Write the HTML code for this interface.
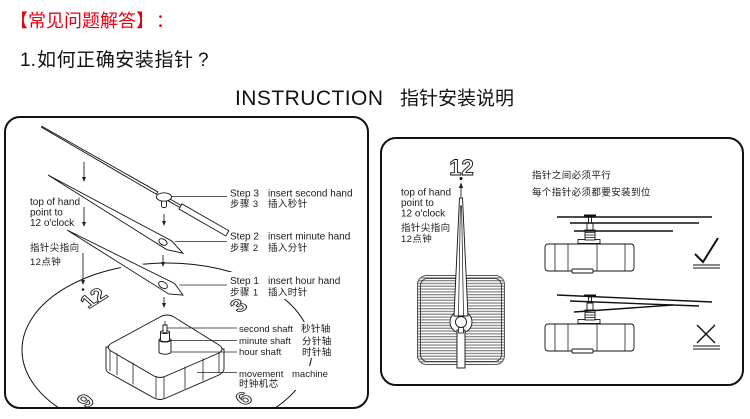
<!DOCTYPE html>
<html><head><meta charset="utf-8">
<style>
html,body{margin:0;padding:0;background:#fff;width:750px;height:419px;overflow:hidden;}
svg{display:block;}
text{font-family:"Liberation Sans","Noto Sans CJK SC",sans-serif;}
.s{font-size:10px;fill:#1a1a1a;}
.t{font-size:9.5px;fill:#1a1a1a;}
.c{font-size:9.5px;fill:#1a1a1a;letter-spacing:0.4px;}
.ln{stroke:#222;stroke-width:0.8;fill:none;}
.o{fill:#fff;stroke:#111;stroke-width:0.9;}
.num{font-size:24px;font-weight:bold;fill:#fff;stroke:#111;stroke-width:1;text-anchor:middle;}
</style></head><body>
<svg width="750" height="419" viewBox="0 0 750 419" xmlns="http://www.w3.org/2000/svg">
<defs>
<clipPath id="lp"><rect x="6" y="118" width="361" height="289" rx="14"/></clipPath>
<pattern id="stripe" width="4" height="2.8" patternUnits="userSpaceOnUse"><rect width="4" height="2.8" fill="#fff"/><rect y="0" width="4" height="1.3" fill="#8a8a8a"/></pattern>
</defs>

<!-- header -->
<text x="10" y="27" font-size="18" fill="#e60012">【常见问题解答】</text>
<text x="156" y="27" font-size="18" fill="#e60012">：</text>
<text x="20" y="66" font-size="19" fill="#111">1.</text>
<text x="37" y="66" font-size="19" fill="#111" textLength="156" lengthAdjust="spacing">如何正确安装指针</text>
<text x="198" y="66" font-size="19" fill="#111">?</text>
<text x="235" y="105" font-size="21" fill="#111" textLength="148" lengthAdjust="spacing">INSTRUCTION</text>
<text x="400" y="104.5" font-size="19" fill="#111">指针安装说明</text>

<!-- panels -->
<rect x="5" y="117" width="363" height="291" rx="15" fill="none" stroke="#111" stroke-width="2"/>
<rect x="381" y="138" width="362" height="247" rx="15" fill="none" stroke="#111" stroke-width="2"/>

<!-- ===== LEFT PANEL ===== -->
<g clip-path="url(#lp)">
  <ellipse cx="167" cy="350" rx="145" ry="87" fill="none" stroke="#111" stroke-width="1"/>
  <g transform="translate(167,350) scale(1,0.75)">
    <text class="num" transform="translate(-74,-70) rotate(-40)" dy="9">12</text>
    <text class="num" transform="translate(71,-60) rotate(-40)" dy="9">3</text>
    <text class="num" transform="translate(76,64) rotate(-40)" dy="9">6</text>
    <text class="num" transform="translate(-82,67) rotate(-40)" dy="9">9</text>
  </g>
</g>

<!-- white masks hiding arc behind labels -->
<rect x="228" y="272" width="118" height="27" fill="#fff"/>
<rect x="238" y="322" width="94" height="36" fill="#fff"/>
<rect x="238" y="366" width="92" height="24" fill="#fff"/>

<!-- left text -->
<text class="s" x="30" y="205">top of hand</text>
<text class="s" x="30" y="215.5">point to</text>
<text class="s" x="30" y="226">12 o'clock</text>
<text class="c" x="30" y="251">指针尖指向</text>
<text class="c" x="30" y="265">12点钟</text>

<!-- arrows left -->
<g stroke="#222" stroke-width="0.9" fill="#222">
  <line x1="84" y1="162" x2="84" y2="178"/><polygon points="82,177 86,177 84,182" stroke="none"/>
  <line x1="84" y1="207" x2="84" y2="223"/><polygon points="82,222 86,222 84,227" stroke="none"/>
  <line x1="164" y1="214" x2="164" y2="222"/><polygon points="162,221 166,221 164,226" stroke="none"/>
  <line x1="83" y1="253" x2="83" y2="281"/><polygon points="81,280 85,280 83,285" stroke="none"/>
  <circle cx="83" cy="289.5" r="1.3" stroke="none"/>
  <line x1="163" y1="255" x2="163" y2="263"/><polygon points="161,262 165,262 163,267" stroke="none"/>
  <line x1="164" y1="297" x2="164" y2="304"/><polygon points="162,303 166,303 164,308" stroke="none"/>
</g>

<!-- leaders -->
<line class="ln" x1="172" y1="196.5" x2="227" y2="196.5"/>
<line class="ln" x1="168" y1="241.5" x2="227" y2="241.5"/>
<line class="ln" x1="168" y1="285" x2="227" y2="285"/>

<!-- second hand -->
<g transform="translate(164,197) rotate(29.85)">
  <polygon class="o" points="-141,-0.5 -141,0.5 -8,1.4 -8,-1.4" stroke-width="0.8"/>
  <polygon class="o" points="6,-1.2 20,-1.2 20,1.2 6,1.2" stroke-width="0.8"/>
  <rect class="o" x="19" y="-3" width="54" height="6"/>
</g>
<path class="o" d="M161.5,200 v6 a2.5,1.5 0 0 0 5,0 v-6 z"/>
<ellipse class="o" cx="164" cy="197" rx="7.5" ry="4.2"/>

<!-- minute hand -->
<g transform="translate(48,175) rotate(30.1)">
  <polygon points="0,0 140,-5 156,0 140,5" fill="#fff" stroke="#fff" stroke-width="4"/>
  <polygon class="o" points="0,0 140,-5 156,0 140,5"/>
</g>
<ellipse class="o" cx="163" cy="242" rx="4.5" ry="2.8" transform="rotate(30 163 242)"/>

<!-- hour hand -->
<g transform="translate(67,230) rotate(29.3)">
  <polygon points="0,0 120,-6 133,0 120,6" fill="#fff" stroke="#fff" stroke-width="6"/>
  <polygon class="o" points="0,0 120,-6 133,0 120,6"/>
</g>
<ellipse class="o" cx="163" cy="285" rx="4.8" ry="3" transform="rotate(30 163 285)"/>

<!-- step labels -->
<text class="s" x="230" y="196.5">Step 3</text>
<text class="s" x="268" y="196.5">insert second hand</text>
<text class="c" x="230" y="207">步骤 3</text>
<text class="c" x="268" y="207">插入秒针</text>
<text class="s" x="230" y="239.5">Step 2</text>
<text class="s" x="268" y="239.5">insert minute hand</text>
<text class="c" x="230" y="251">步骤 2</text>
<text class="c" x="268" y="251">插入分针</text>
<text class="s" x="230" y="284">Step 1</text>
<text class="s" x="268" y="284">insert hour hand</text>
<text class="c" x="230" y="295.5">步骤 1</text>
<text class="c" x="268" y="295.5">插入时针</text>

<!-- movement box -->
<path class="o" d="M106,347 L106,369 Q106,372 111,374 L154,398 Q160,401 166,398 L219,375 Q224,372 224,369 L224,349 Z"/>
<path class="o" d="M112,343 L160,317 Q167,313 174,317 L219,345 Q225,349 219,353 L166,376 Q160,379 154,376 L111,351 Q105,347 112,343 Z"/>
<g class="ln">
  <line x1="110" y1="350" x2="110" y2="371.3"/>
  <line x1="117" y1="353.3" x2="117" y2="375.3"/>
  <line x1="133" y1="362.5" x2="133" y2="384.5"/>
  <line x1="156" y1="376" x2="156" y2="397.7"/>
  <line x1="164" y1="376.5" x2="164" y2="398.2"/>
  <line x1="185" y1="366.7" x2="185" y2="388.7"/>
  <line x1="203" y1="358.5" x2="203" y2="380.5"/>
  <line x1="219" y1="352" x2="219" y2="373.3"/>
</g>
<!-- shaft -->
<path class="o" d="M159,340 V352 A6,2.2 0 0 0 171,352 V340 Z"/>
<ellipse class="o" cx="165" cy="340" rx="6" ry="2"/>
<path class="o" d="M160.5,332 V340 A4.5,1.6 0 0 0 169.5,340 V332 Z"/>
<ellipse class="o" cx="165" cy="332" rx="4.5" ry="1.6"/>
<path class="o" d="M163,325 V332 A2,1 0 0 0 167,332 V325 Z"/>
<line class="ln" x1="165" y1="321" x2="165" y2="325"/>

<!-- shaft leaders -->
<line class="ln" x1="167" y1="328" x2="237" y2="328"/>
<line class="ln" x1="170" y1="340.5" x2="237" y2="340.5"/>
<line class="ln" x1="171" y1="352" x2="237" y2="352"/>
<line class="ln" x1="197" y1="372.5" x2="237" y2="372.5"/>

<text class="t" x="239" y="331.8">second shaft</text>
<text class="c" x="301" y="332">秒针轴</text>
<text class="t" x="239" y="344.2">minute shaft</text>
<text class="c" x="302" y="344.5">分针轴</text>
<text class="t" x="239" y="355.2">hour shaft</text>
<text class="c" x="302" y="355.5">时针轴</text>
<text class="t" x="239" y="376.8">movement</text>
<text class="t" x="292" y="376.8">machine</text>
<text class="c" x="239" y="387">时钟机芯</text>

<!-- ===== RIGHT PANEL ===== -->
<text x="461.5" y="175" text-anchor="middle" font-size="22" font-weight="bold" fill="#fff" stroke="#111" stroke-width="0.9">12</text>
<circle cx="461" cy="178.5" r="1.5" fill="#111"/>
<line x1="461" y1="197" x2="461" y2="187" stroke="#222" stroke-width="0.9"/>
<polygon points="458.8,188 463.2,188 461,182.5" fill="#222"/>

<text class="s" x="401" y="195.5">top of hand</text>
<text class="s" x="401" y="205.8">point to</text>
<text class="s" x="401" y="216.5">12 o'clock</text>
<text class="c" x="401" y="231">指针尖指向</text>
<text class="c" x="401" y="242">12点钟</text>

<!-- square movement front -->
<rect x="417.5" y="275.5" width="87" height="89" rx="9" fill="url(#stripe)" stroke="#555" stroke-width="1"/>
<rect x="420.5" y="278.5" width="81" height="83" rx="7" fill="none" stroke="#222" stroke-width="0.8"/>

<!-- vertical hand -->
<circle class="o" cx="461" cy="322" r="11"/>
<rect class="o" x="457" y="330" width="8" height="38"/>
<rect x="458.5" y="327" width="5" height="6" fill="#fff" stroke="#111" stroke-width="0.8"/>
<polygon class="o" points="459.5,198 462.5,198 468,316 454,316"/>
<polygon points="460.4,206 461.6,206 463.5,316 458.5,316" fill="none" stroke="#111" stroke-width="0.7"/>
<circle class="o" cx="461" cy="322" r="5.5"/>

<!-- parallel text -->
<text class="c" x="532" y="178.5" letter-spacing="0.8">指针之间必须平行</text>
<text class="c" x="532" y="195.5" letter-spacing="0.5">每个指针必须都要安装到位</text>

<!-- side movement (correct) -->
<g>
  <rect class="o" x="578" y="239.5" width="22" height="4"/>
  <rect class="o" x="585" y="230" width="10" height="10"/>
  <g class="ln"><line x1="585" y1="232.5" x2="595" y2="232.5"/><line x1="585" y1="235" x2="595" y2="235"/><line x1="585" y1="237.5" x2="595" y2="237.5"/></g>
  <rect class="o" x="587" y="223" width="6" height="7"/>
  <rect class="o" x="588.5" y="217" width="3" height="6"/>
  <rect x="584" y="214.5" width="12" height="2.5" fill="#111"/>
  <rect class="o" x="545" y="244" width="89" height="27" rx="3"/>
  <g class="ln"><line x1="555" y1="244" x2="555" y2="271"/><line x1="568" y1="244" x2="568" y2="271"/><line x1="597" y1="244" x2="597" y2="271"/><line x1="625" y1="244" x2="625" y2="271"/></g>
  <rect class="o" x="572" y="269" width="21" height="4" rx="1"/>
  <g stroke="#111" stroke-width="1.4">
    <line x1="557" y1="217" x2="712" y2="217"/>
    <line x1="570" y1="223" x2="699" y2="223"/>
    <line x1="574" y1="231" x2="673" y2="231"/>
  </g>
</g>
<polyline points="695,254 703,262 718,238" fill="none" stroke="#111" stroke-width="2"/>
<line x1="693" y1="265" x2="720" y2="265" stroke="#111" stroke-width="1"/>
<line x1="693" y1="268" x2="720" y2="268" stroke="#111" stroke-width="1"/>

<!-- side movement (wrong) -->
<g transform="translate(0,80)">
  <rect class="o" x="578" y="239.5" width="22" height="4"/>
  <rect class="o" x="585" y="230" width="10" height="10"/>
  <g class="ln"><line x1="585" y1="232.5" x2="595" y2="232.5"/><line x1="585" y1="235" x2="595" y2="235"/><line x1="585" y1="237.5" x2="595" y2="237.5"/></g>
  <rect class="o" x="587" y="223" width="6" height="7"/>
  <rect class="o" x="588.5" y="217" width="3" height="6"/>
  <rect x="584" y="214.5" width="12" height="2.5" fill="#111"/>
  <rect class="o" x="545" y="244" width="89" height="27" rx="3"/>
  <g class="ln"><line x1="555" y1="244" x2="555" y2="271"/><line x1="568" y1="244" x2="568" y2="271"/><line x1="597" y1="244" x2="597" y2="271"/><line x1="625" y1="244" x2="625" y2="271"/></g>
  <rect class="o" x="572" y="269" width="21" height="4" rx="1"/>
</g>
<g stroke="#111" stroke-width="1.4">
  <line x1="557" y1="295" x2="712" y2="302"/>
  <line x1="570" y1="301" x2="699" y2="306"/>
  <line x1="574" y1="312" x2="673" y2="305"/>
</g>
<line x1="697" y1="325" x2="715" y2="343" stroke="#111" stroke-width="1.4"/>
<line x1="715" y1="325" x2="697" y2="343" stroke="#111" stroke-width="1.4"/>
<line x1="693" y1="346" x2="720" y2="346" stroke="#111" stroke-width="1"/>
<line x1="693" y1="349" x2="720" y2="349" stroke="#111" stroke-width="1"/>
</svg>
</body></html>
